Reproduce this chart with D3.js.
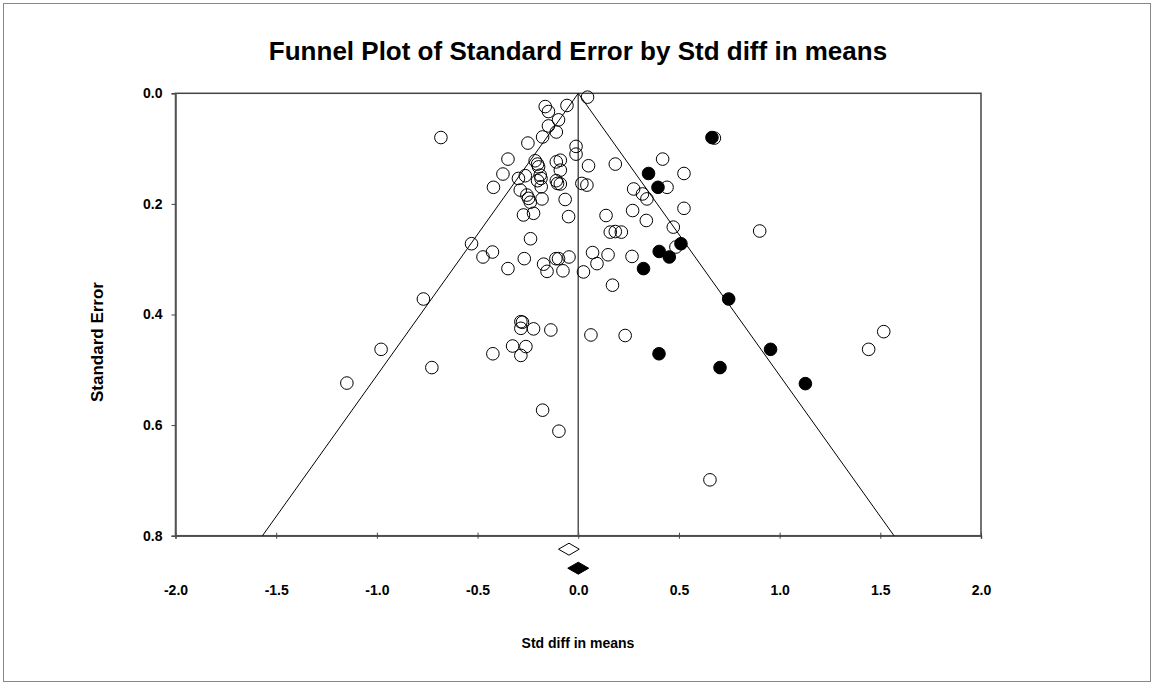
<!DOCTYPE html>
<html>
<head>
<meta charset="utf-8">
<script src="https://cdn.jsdelivr.net/npm/d3@7"></script>
<style>
  body { margin: 0; background: #fff; }
  text { font-family: Arial, "Liberation Sans", sans-serif; font-weight: bold; fill: #000; }
</style>
</head>
<body>
<div id="chart"></div>
<script>
// observed studies: [std diff in means, standard error]
var observedStudies = [
  [0.046, 0.007], [-0.164, 0.024], [-0.148, 0.033], [-0.056, 0.022], [-0.098, 0.048],
  [-0.148, 0.059], [-0.109, 0.070], [-0.177, 0.079], [-0.250, 0.090], [-0.682, 0.080],
  [-0.011, 0.096], [-0.011, 0.110], [-0.349, 0.119], [-0.374, 0.146], [-0.421, 0.170],
  [-0.214, 0.122], [-0.202, 0.128], [-0.197, 0.133], [-0.109, 0.124], [-0.089, 0.121],
  [-0.089, 0.139], [-0.263, 0.149], [-0.297, 0.154], [-0.189, 0.148], [-0.185, 0.154],
  [-0.202, 0.158], [-0.184, 0.169], [-0.109, 0.158], [-0.103, 0.163], [-0.089, 0.164],
  [-0.288, 0.175], [0.018, 0.163], [0.043, 0.166], [-0.255, 0.184], [-0.247, 0.190],
  [-0.238, 0.197], [-0.180, 0.191], [-0.065, 0.192], [-0.272, 0.220], [-0.222, 0.217],
  [-0.048, 0.223], [-0.237, 0.263], [-0.530, 0.272], [-0.473, 0.296], [-0.426, 0.287],
  [-0.268, 0.299], [-0.349, 0.317], [-0.172, 0.309], [-0.155, 0.322], [-0.111, 0.299],
  [-0.098, 0.299], [-0.046, 0.296], [-0.076, 0.321], [-0.769, 0.372], [-0.979, 0.463],
  [-1.149, 0.524], [-0.727, 0.496], [-0.285, 0.413], [-0.277, 0.414], [-0.285, 0.425],
  [-0.222, 0.426], [-0.136, 0.428], [-0.326, 0.457], [-0.260, 0.458], [-0.424, 0.471],
  [-0.285, 0.474], [-0.177, 0.573], [-0.096, 0.611],
  [0.051, 0.131], [0.184, 0.128], [0.419, 0.119], [0.676, 0.081], [0.525, 0.145],
  [0.441, 0.170], [0.275, 0.173], [0.319, 0.182], [0.341, 0.191], [0.525, 0.208],
  [0.270, 0.212], [0.138, 0.221], [0.338, 0.230], [0.472, 0.242], [0.901, 0.249],
  [0.159, 0.251], [0.184, 0.250], [0.214, 0.251], [0.485, 0.278], [0.071, 0.288],
  [0.148, 0.292], [0.267, 0.295], [0.093, 0.308], [0.026, 0.323], [0.170, 0.347],
  [0.063, 0.437], [0.233, 0.438], [0.654, 0.699], [1.442, 0.463], [1.517, 0.431]
];

// imputed studies (trim and fill)
var imputedStudies = [
  [0.664, 0.080], [0.349, 0.145], [0.396, 0.170], [0.510, 0.272], [0.402, 0.286],
  [0.452, 0.296], [0.324, 0.317], [0.747, 0.372], [0.401, 0.471], [0.704, 0.496],
  [0.955, 0.463], [1.128, 0.525]
];

// summary diamonds: [lower, point, upper]
var observedSummary = [-0.098, -0.046, 0.005];
var adjustedSummary = [-0.052, 0.000, 0.052];

var funnelCentre = 0.0;
var xTicks = [-2.0, -1.5, -1.0, -0.5, 0.0, 0.5, 1.0, 1.5, 2.0];
var yTicks = [0.0, 0.2, 0.4, 0.6, 0.8];

// plot box (note: "top" is a reserved window property, so use plot* names)
var W = 1155, H = 686;
var plotLeft = 175.5, plotRight = 981, plotTop = 93.3, plotBottom = 535.7;

var svg = d3.select('#chart').append('svg')
  .attr('width', W)
  .attr('height', H);

// outer border
svg.append('rect')
  .attr('x', 3.5).attr('y', 3.5)
  .attr('width', W - 8).attr('height', H - 8)
  .attr('fill', 'none')
  .attr('stroke', '#888')
  .attr('stroke-width', 1);

var x = d3.scaleLinear().domain([-2, 2]).range([plotLeft, plotRight]);
var y = d3.scaleLinear().domain([0, 0.8]).range([plotTop, plotBottom]);

// title
svg.append('text')
  .attr('x', 578).attr('y', 60)
  .attr('text-anchor', 'middle')
  .style('font-size', '26px')
  .text('Funnel Plot of Standard Error by Std diff in means');

// plot frame
svg.append('rect')
  .attr('x', plotLeft).attr('y', plotTop)
  .attr('width', plotRight - plotLeft).attr('height', plotBottom - plotTop)
  .attr('fill', 'none')
  .attr('stroke', '#444')
  .attr('stroke-width', 1.5);

// x axis, ticks cross the line
var xAxis = svg.append('g')
  .attr('transform', 'translate(0,' + plotBottom + ')')
  .call(d3.axisBottom(x).tickValues(xTicks).tickFormat(d3.format('.1f')).tickSize(3).tickPadding(46));
xAxis.select('.domain').attr('stroke', '#555').attr('stroke-width', 1.5);
xAxis.selectAll('.tick line').attr('y1', -3).attr('stroke', '#444');
xAxis.selectAll('.tick text').style('font-size', '14px')
  .text(function(d) { return d3.format('.1f')(d).replace('−', '-'); });

// y axis
var yAxis = svg.append('g')
  .attr('transform', 'translate(' + plotLeft + ',0)')
  .call(d3.axisLeft(y).tickValues(yTicks).tickFormat(d3.format('.1f')).tickSize(4).tickPadding(9));
yAxis.select('.domain').attr('stroke', '#555').attr('stroke-width', 1.5);
yAxis.selectAll('.tick line').attr('stroke', '#444');
yAxis.selectAll('.tick text').style('font-size', '14px');

// axis titles
svg.append('text')
  .attr('x', 578).attr('y', 648)
  .attr('text-anchor', 'middle')
  .style('font-size', '14px')
  .text('Std diff in means');

svg.append('text')
  .attr('transform', 'translate(103,342) rotate(-90)')
  .attr('text-anchor', 'middle')
  .style('font-size', '17px')
  .text('Standard Error');

// funnel: centre line plus 95% limits
var seMax = 0.8;
svg.append('line')
  .attr('x1', x(funnelCentre)).attr('y1', y(0))
  .attr('x2', x(funnelCentre)).attr('y2', y(seMax))
  .attr('stroke', '#555').attr('stroke-width', 1.5);

var limitLine = d3.line()
  .x(function(d) { return x(d[0]); })
  .y(function(d) { return y(d[1]); });

[-1.96, 1.96].forEach(function(z) {
  svg.append('path')
    .datum([[funnelCentre, 0], [funnelCentre + z * seMax, seMax]])
    .attr('d', limitLine)
    .attr('fill', 'none')
    .attr('stroke', '#000')
    .attr('stroke-width', 1);
});

// studies
svg.append('g').selectAll('circle')
  .data(observedStudies)
  .enter().append('circle')
  .attr('cx', function(d) { return x(d[0]); })
  .attr('cy', function(d) { return y(d[1]); })
  .attr('r', 6.3)
  .attr('fill', 'none')
  .attr('stroke', '#000')
  .attr('stroke-width', 1);

svg.append('g').selectAll('circle')
  .data(imputedStudies)
  .enter().append('circle')
  .attr('cx', function(d) { return x(d[0]); })
  .attr('cy', function(d) { return y(d[1]); })
  .attr('r', 6.3)
  .attr('fill', '#000')
  .attr('stroke', '#000')
  .attr('stroke-width', 1);

// summary diamonds under the axis
function diamond(s, cy, fill) {
  var hh = 6;
  var pts = [[x(s[0]), cy], [x(s[1]), cy - hh], [x(s[2]), cy], [x(s[1]), cy + hh]];
  svg.append('path')
    .attr('d', 'M' + pts.join('L') + 'Z')
    .attr('fill', fill)
    .attr('stroke', '#000')
    .attr('stroke-width', 1);
}
diamond(observedSummary, plotBottom + 13.5, '#fff');
diamond(adjustedSummary, plotBottom + 32.5, '#000');
</script>
</body>
</html>
